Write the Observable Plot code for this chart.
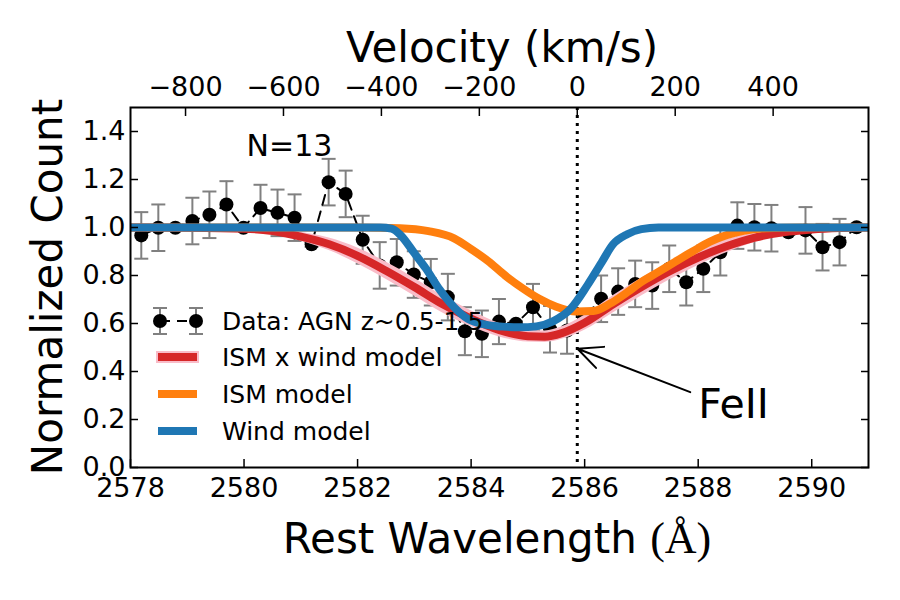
<!DOCTYPE html>
<html><head><meta charset="utf-8">
<script src="https://cdn.jsdelivr.net/npm/d3@7"></script>
<script src="https://cdn.jsdelivr.net/npm/@observablehq/plot@0.6"></script>
<style>body{margin:0;background:#fff}#chart svg{display:block}</style>
</head><body><div id="chart"></div>
<script>
// ---- data ----
const wavelength = [2578.19,2578.49,2578.79,2579.09,2579.39,2579.69,2579.99,2580.29,2580.59,2580.89,
  2581.19,2581.49,2581.79,2582.09,2582.39,2582.69,2582.99,2583.29,2583.59,2583.89,
  2584.19,2584.49,2584.79,2585.09,2585.39,2585.69,2585.99,2586.29,2586.59,2586.89,
  2587.19,2587.49,2587.79,2588.09,2588.39,2588.69,2588.99,2589.29,2589.59,2589.89,
  2590.19,2590.49,2590.79];
const flux = [0.967,0.999,0.999,1.027,1.053,1.096,0.999,1.081,1.061,1.041,
  0.930,1.189,1.140,0.949,0.842,0.855,0.804,0.772,0.710,0.568,
  0.557,0.608,0.599,0.668,0.576,0.571,0.624,0.703,0.733,0.765,
  0.758,0.828,0.772,0.828,0.897,1.008,1.001,0.997,0.980,0.988,
  0.918,0.939,1.001];
const fluxErr = [0.097,0.097,0.01,0.097,0.097,0.097,0.01,0.097,0.097,0.097,
  0.01,0.097,0.097,0.1,0.097,0.097,0.097,0.097,0.097,0.1,
  0.097,0.094,0.01,0.097,0.097,0.097,0.01,0.097,0.097,0.097,
  0.097,0.097,0.097,0.097,0.097,0.097,0.097,0.097,0.01,0.097,
  0.097,0.097,0.01];

const redWave = [2578.0,2579.0,2580.0,2580.5,2581.0,2581.5,2582.0,2582.5,2583.0,2583.5,2584.0,2584.5,2585.0,2585.3,2585.6,2586.0,2586.5,2587.0,2587.5,2588.0,2588.5,2589.0,2589.5,2590.0,2590.5,2591.0];
const redFlux = [1.0,0.999,0.995,0.985,0.962,0.93,0.882,0.82,0.752,0.68,0.62,0.572,0.547,0.545,0.56,0.603,0.68,0.752,0.818,0.875,0.922,0.958,0.98,0.992,0.998,1.0];
const redBandHalf = [0.002,0.003,0.006,0.01,0.018,0.026,0.033,0.036,0.037,0.036,0.033,0.028,0.024,0.024,0.026,0.031,0.036,0.037,0.036,0.033,0.027,0.02,0.013,0.008,0.004,0.002];

const ismWave = [2578.0,2582.0,2582.75,2583.25,2583.7,2584.0,2584.3,2584.6,2584.9,2585.2,2585.5,2585.85,2586.15,2586.45,2586.75,2587.0,2587.3,2587.6,2587.9,2588.2,2588.5,2588.8,2589.2,2589.8,2591.0];
const ismFlux = [1.0,1.0,0.997,0.985,0.955,0.91,0.86,0.80,0.748,0.703,0.67,0.65,0.652,0.683,0.73,0.773,0.815,0.858,0.9,0.94,0.968,0.986,0.997,1.0,1.0];

const windWave = [2578.0,2582.4,2582.6,2582.75,2583.0,2583.2,2583.45,2583.7,2583.95,2584.25,2584.55,2584.85,2585.15,2585.45,2585.75,2586.05,2586.3,2586.5,2586.75,2587.0,2587.3,2591.0];
const windFlux = [1.0,1.0,0.995,0.97,0.893,0.83,0.74,0.668,0.618,0.595,0.587,0.584,0.588,0.61,0.66,0.76,0.855,0.93,0.972,0.993,1.0,1.0];

const xTicks = [2578,2580,2582,2584,2586,2588,2590];
const yTicks = [0,0.2,0.4,0.6,0.8,1.0,1.2,1.4];
const velocityTicks = [-800,-600,-400,-200,0,200,400];
const restLine = 2585.87;          // FeII line centre (Å), zero velocity
const lightSpeed = 299792.458;     // km/s

const legendLabels = ["Data: AGN z~0.5-1.5","ISM x wind model","ISM model","Wind model"];
const legendColors = ["black","#d62728","#ff7f0e","#1f77b4"];

const sampleLabel = {text: "N=13", x: 2580.8, y: 1.337};
const lineLabel = {text: "FeII", x: 2588.0, y: 0.2625};
const arrowFrom = [2587.86, 0.314];
const arrowTo = [2585.874, 0.495];

// ---- tables ----
const dataTable = wavelength.map((w, i) => ({w, f: flux[i], lo: flux[i] - fluxErr[i], hi: flux[i] + fluxErr[i]}));
const redTable = redWave.map((w, i) => ({w, f: redFlux[i], lo: redFlux[i] - redBandHalf[i], hi: redFlux[i] + redBandHalf[i]}));
const ismTable = ismWave.map((w, i) => ({w, f: ismFlux[i]}));
const windTable = windWave.map((w, i) => ({w, f: windFlux[i]}));
const velocityWave = velocityTicks.map(v => restLine * (1 + v / lightSpeed));

const capSymbol = {draw(ctx, size) { const w = Math.sqrt(size / Math.PI); ctx.moveTo(-w, 0); ctx.lineTo(w, 0); }};
const fmtInt = d3.format("d");

const chart = Plot.plot({
  width: 900, height: 600,
  marginLeft: 130, marginRight: 32, marginTop: 107, marginBottom: 133,
  x: {domain: [2578, 2591]},
  y: {domain: [0, 1.5]},
  style: {fontFamily: "DejaVu Sans", background: "#fff", color: "black"},
  marks: [
    Plot.ruleX([restLine], {stroke: "black", strokeWidth: 3, strokeDasharray: "3,5"}),
    // data with error bars
    Plot.ruleX(dataTable, {x: "w", y1: "lo", y2: "hi", stroke: "#808080", strokeWidth: 2}),
    Plot.dot(dataTable, {x: "w", y: "hi", symbol: capSymbol, r: 7, stroke: "#808080", strokeWidth: 2, fill: "none"}),
    Plot.dot(dataTable, {x: "w", y: "lo", symbol: capSymbol, r: 7, stroke: "#808080", strokeWidth: 2, fill: "none"}),
    Plot.line(dataTable, {x: "w", y: "f", stroke: "black", strokeWidth: 2, strokeDasharray: "10,7"}),
    Plot.dot(dataTable, {x: "w", y: "f", r: 7, fill: "black", stroke: "none"}),
    // models
    Plot.areaY(redTable, {x: "w", y1: "lo", y2: "hi", fill: "#f9bcc8", curve: "monotone-x", clip: true}),
    Plot.line(redTable, {x: "w", y: "f", stroke: "#d62728", strokeWidth: 8, curve: "monotone-x", clip: true}),
    Plot.line(ismTable, {x: "w", y: "f", stroke: "#ff7f0e", strokeWidth: 8, curve: "monotone-x", clip: true}),
    Plot.line(windTable, {x: "w", y: "f", stroke: "#1f77b4", strokeWidth: 8, curve: "monotone-x", clip: true}),
    // annotations
    Plot.text([sampleLabel], {x: "x", y: "y", text: "text", fontSize: 30, textAnchor: "middle", lineAnchor: "middle", fill: "black"}),
    Plot.text([lineLabel], {x: "x", y: "y", text: "text", fontSize: 41, textAnchor: "start", lineAnchor: "middle", fill: "black"}),
    Plot.arrow([0], {x1: () => arrowFrom[0], y1: () => arrowFrom[1], x2: () => arrowTo[0], y2: () => arrowTo[1], stroke: "black", strokeWidth: 2, headLength: 20, headAngle: 50, bend: 0}),
    // axes
    Plot.axisX({anchor: "bottom", ticks: xTicks, tickSize: 0, tickPadding: 10, fontSize: 27, tickFormat: fmtInt, label: null}),
    Plot.axisX({anchor: "bottom", ticks: xTicks, tickSize: -8, strokeWidth: 1.5, fill: "none", label: null}),
    Plot.axisX({anchor: "top", ticks: velocityWave, tickSize: 0, tickPadding: 12, fontSize: 27,
      tickFormat: d => fmtInt(Math.round((d / restLine - 1) * lightSpeed / 100) * 100), label: null}),
    Plot.axisX({anchor: "top", ticks: velocityWave, tickSize: -8, strokeWidth: 1.5, fill: "none", label: null}),
    Plot.axisY({anchor: "left", ticks: yTicks, tickSize: 0, tickPadding: 5, fontSize: 27, tickFormat: d3.format(".1f"), label: null}),
    Plot.axisY({anchor: "left", ticks: yTicks, tickSize: -8, strokeWidth: 1.5, fill: "none", label: null}),
    Plot.axisY({anchor: "right", ticks: yTicks, tickSize: -8, strokeWidth: 1.5, fill: "none", label: null}),
    Plot.frame({stroke: "black", strokeWidth: 2})
  ]
});

document.getElementById("chart").appendChild(chart);

// ---- axis titles and legend (inside the SVG) ----
const svg = d3.select(chart);
svg.append("text").attr("x", 502).attr("y", 62).attr("text-anchor", "middle")
  .attr("font-family", "DejaVu Sans").attr("font-size", 42).attr("fill", "black").text("Velocity (km/s)");
const xt = svg.append("text").attr("x", 497).attr("y", 553).attr("text-anchor", "middle")
  .attr("font-family", "DejaVu Sans").attr("font-size", 42).attr("fill", "black");
xt.append("tspan").text("Rest Wavelength ");
xt.append("tspan").attr("font-family", "Liberation Serif").attr("font-size", 44).text("(Å)");
svg.append("text").attr("transform", "translate(62,287) rotate(-90)").attr("text-anchor", "middle")
  .attr("font-family", "DejaVu Sans").attr("font-size", 42).attr("fill", "black").text("Normalized Count");

const legendRows = [321, 357, 394, 431];
const lg = svg.append("g");
legendLabels.forEach((lab, i) => {
  const y = legendRows[i];
  if (i === 0) {
    lg.append("line").attr("x1", 160).attr("x2", 196).attr("y1", y).attr("y2", y)
      .attr("stroke", "black").attr("stroke-width", 2).attr("stroke-dasharray", "10,7");
    [160, 196].forEach(cx => {
      lg.append("line").attr("x1", cx).attr("x2", cx).attr("y1", y - 13).attr("y2", y + 13).attr("stroke", "#808080").attr("stroke-width", 2);
      lg.append("line").attr("x1", cx - 7).attr("x2", cx + 7).attr("y1", y - 13).attr("y2", y - 13).attr("stroke", "#808080").attr("stroke-width", 2);
      lg.append("line").attr("x1", cx - 7).attr("x2", cx + 7).attr("y1", y + 13).attr("y2", y + 13).attr("stroke", "#808080").attr("stroke-width", 2);
      lg.append("circle").attr("cx", cx).attr("cy", y).attr("r", 7).attr("fill", "black");
    });
  } else {
    if (i === 1) lg.append("rect").attr("x", 156).attr("y", y - 6).attr("width", 43).attr("height", 12).attr("fill", "#f9bcc8");
    lg.append("line").attr("x1", 158).attr("x2", 197).attr("y1", y).attr("y2", y)
      .attr("stroke", legendColors[i]).attr("stroke-width", 8);
  }
  lg.append("text").attr("x", 222).attr("y", y + 9).attr("text-anchor", "start")
    .attr("font-family", "DejaVu Sans").attr("font-size", 25)
    .attr("fill", "black").text(lab);
});
</script>
</body></html>
